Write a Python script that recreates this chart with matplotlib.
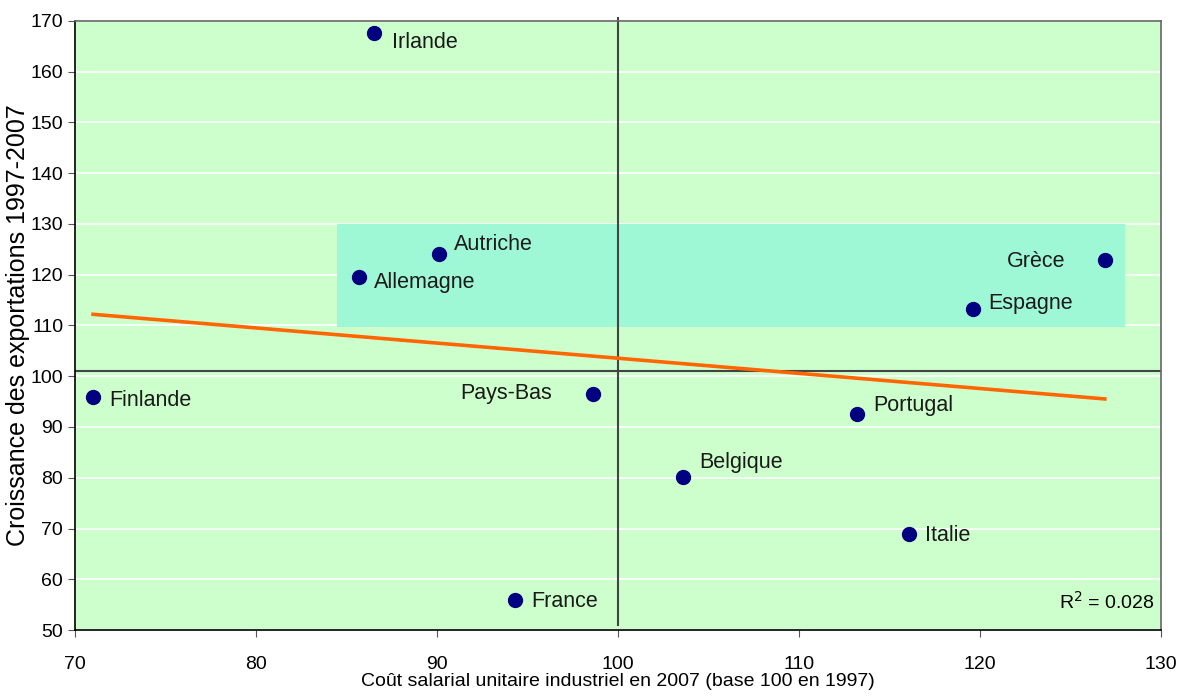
import numpy as np
import matplotlib
matplotlib.use("Agg")
import matplotlib.pyplot as plt
from matplotlib.patches import Rectangle

# donnees
pays = ["Irlande", "Autriche", "Allemagne", "Grèce", "Espagne", "Finlande",
        "Pays-Bas", "Portugal", "Belgique", "Italie", "France"]
cout = [86.5, 90.1, 85.7, 126.9, 119.6, 71.0, 98.6, 113.2, 103.6, 116.1, 94.3]
export = [167.6, 124.1, 119.6, 122.9, 113.3, 95.9, 96.5, 92.6, 80.1, 68.9, 55.9]
# decalage des etiquettes (pixels) et alignement
dx = [18, 15, 15, -39, 16, 16, -41, 16, 16, 16, 16]
dy = [-9, 9, -6, -1, 5, -3, 1, 8, 15, -1, -1]
align = ["left", "left", "left", "right", "left", "left", "right", "left", "left", "left", "left"]

plt.rcParams['font.family'] = ['Liberation Sans', 'DejaVu Sans']

fig = plt.figure(figsize=(11.81, 6.99), dpi=100)
ax = fig.add_axes([0.0635, 0.0987, 0.9195, 0.8713])
ax.set_facecolor('#CCFFCC')

ax.set_xlim(70, 130)
ax.set_ylim(50, 170)
ax.set_xticks(np.arange(70, 131, 10))
ax.set_yticks(np.arange(50, 171, 10))
ax.yaxis.grid(True, color='white', lw=1.2)
ax.set_axisbelow(True)
ax.tick_params(labelsize=14, length=5, direction='out', color='#555555')
ax.tick_params(axis='x', pad=14)
for s in ax.spines.values():
    s.set_color('#666666')
    s.set_linewidth(1.2)
ax.spines['bottom'].set_color('black')
ax.spines['left'].set_color('black')

# zone en surbrillance
ax.add_patch(Rectangle((84.5, 109.7), 128.0 - 84.5, 130.0 - 109.7,
                       facecolor='#9EF8D6', edgecolor='none', zorder=1.5))

# axes de croisement
ax.plot([100, 100], [51, 170.6], color='#444444', lw=1.5, zorder=2, clip_on=False)
ax.axhline(101, color='#444444', lw=1.5, zorder=2)

# droite de tendance
p = np.polyfit(cout, export, 1)
xt = np.array([min(cout), max(cout)])
ax.plot(xt, np.polyval(p, xt), color='#FF6600', lw=2.6, zorder=3)

ax.plot(cout, export, 'o', color='#000080', ms=10, zorder=4, linestyle='none')

for i in range(len(pays)):
    ax.annotate(pays[i], (cout[i], export[i]), xytext=(dx[i], dy[i]),
                textcoords='offset pixels', ha=align[i], va='center',
                fontsize=15.5, color='#1a1a1a', zorder=5)

ax.text(129.65, 53.3, "R$^2$ = 0.028", ha='right', va='bottom', fontsize=14)

ax.set_xlabel("Coût salarial unitaire industriel en 2007 (base 100 en 1997)", fontsize=14, labelpad=0)
ax.set_ylabel("Croissance des exportations 1997-2007", fontsize=18)
ax.yaxis.set_label_coords(-0.041, 0.5)

fig.savefig("out.png", dpi=100)
